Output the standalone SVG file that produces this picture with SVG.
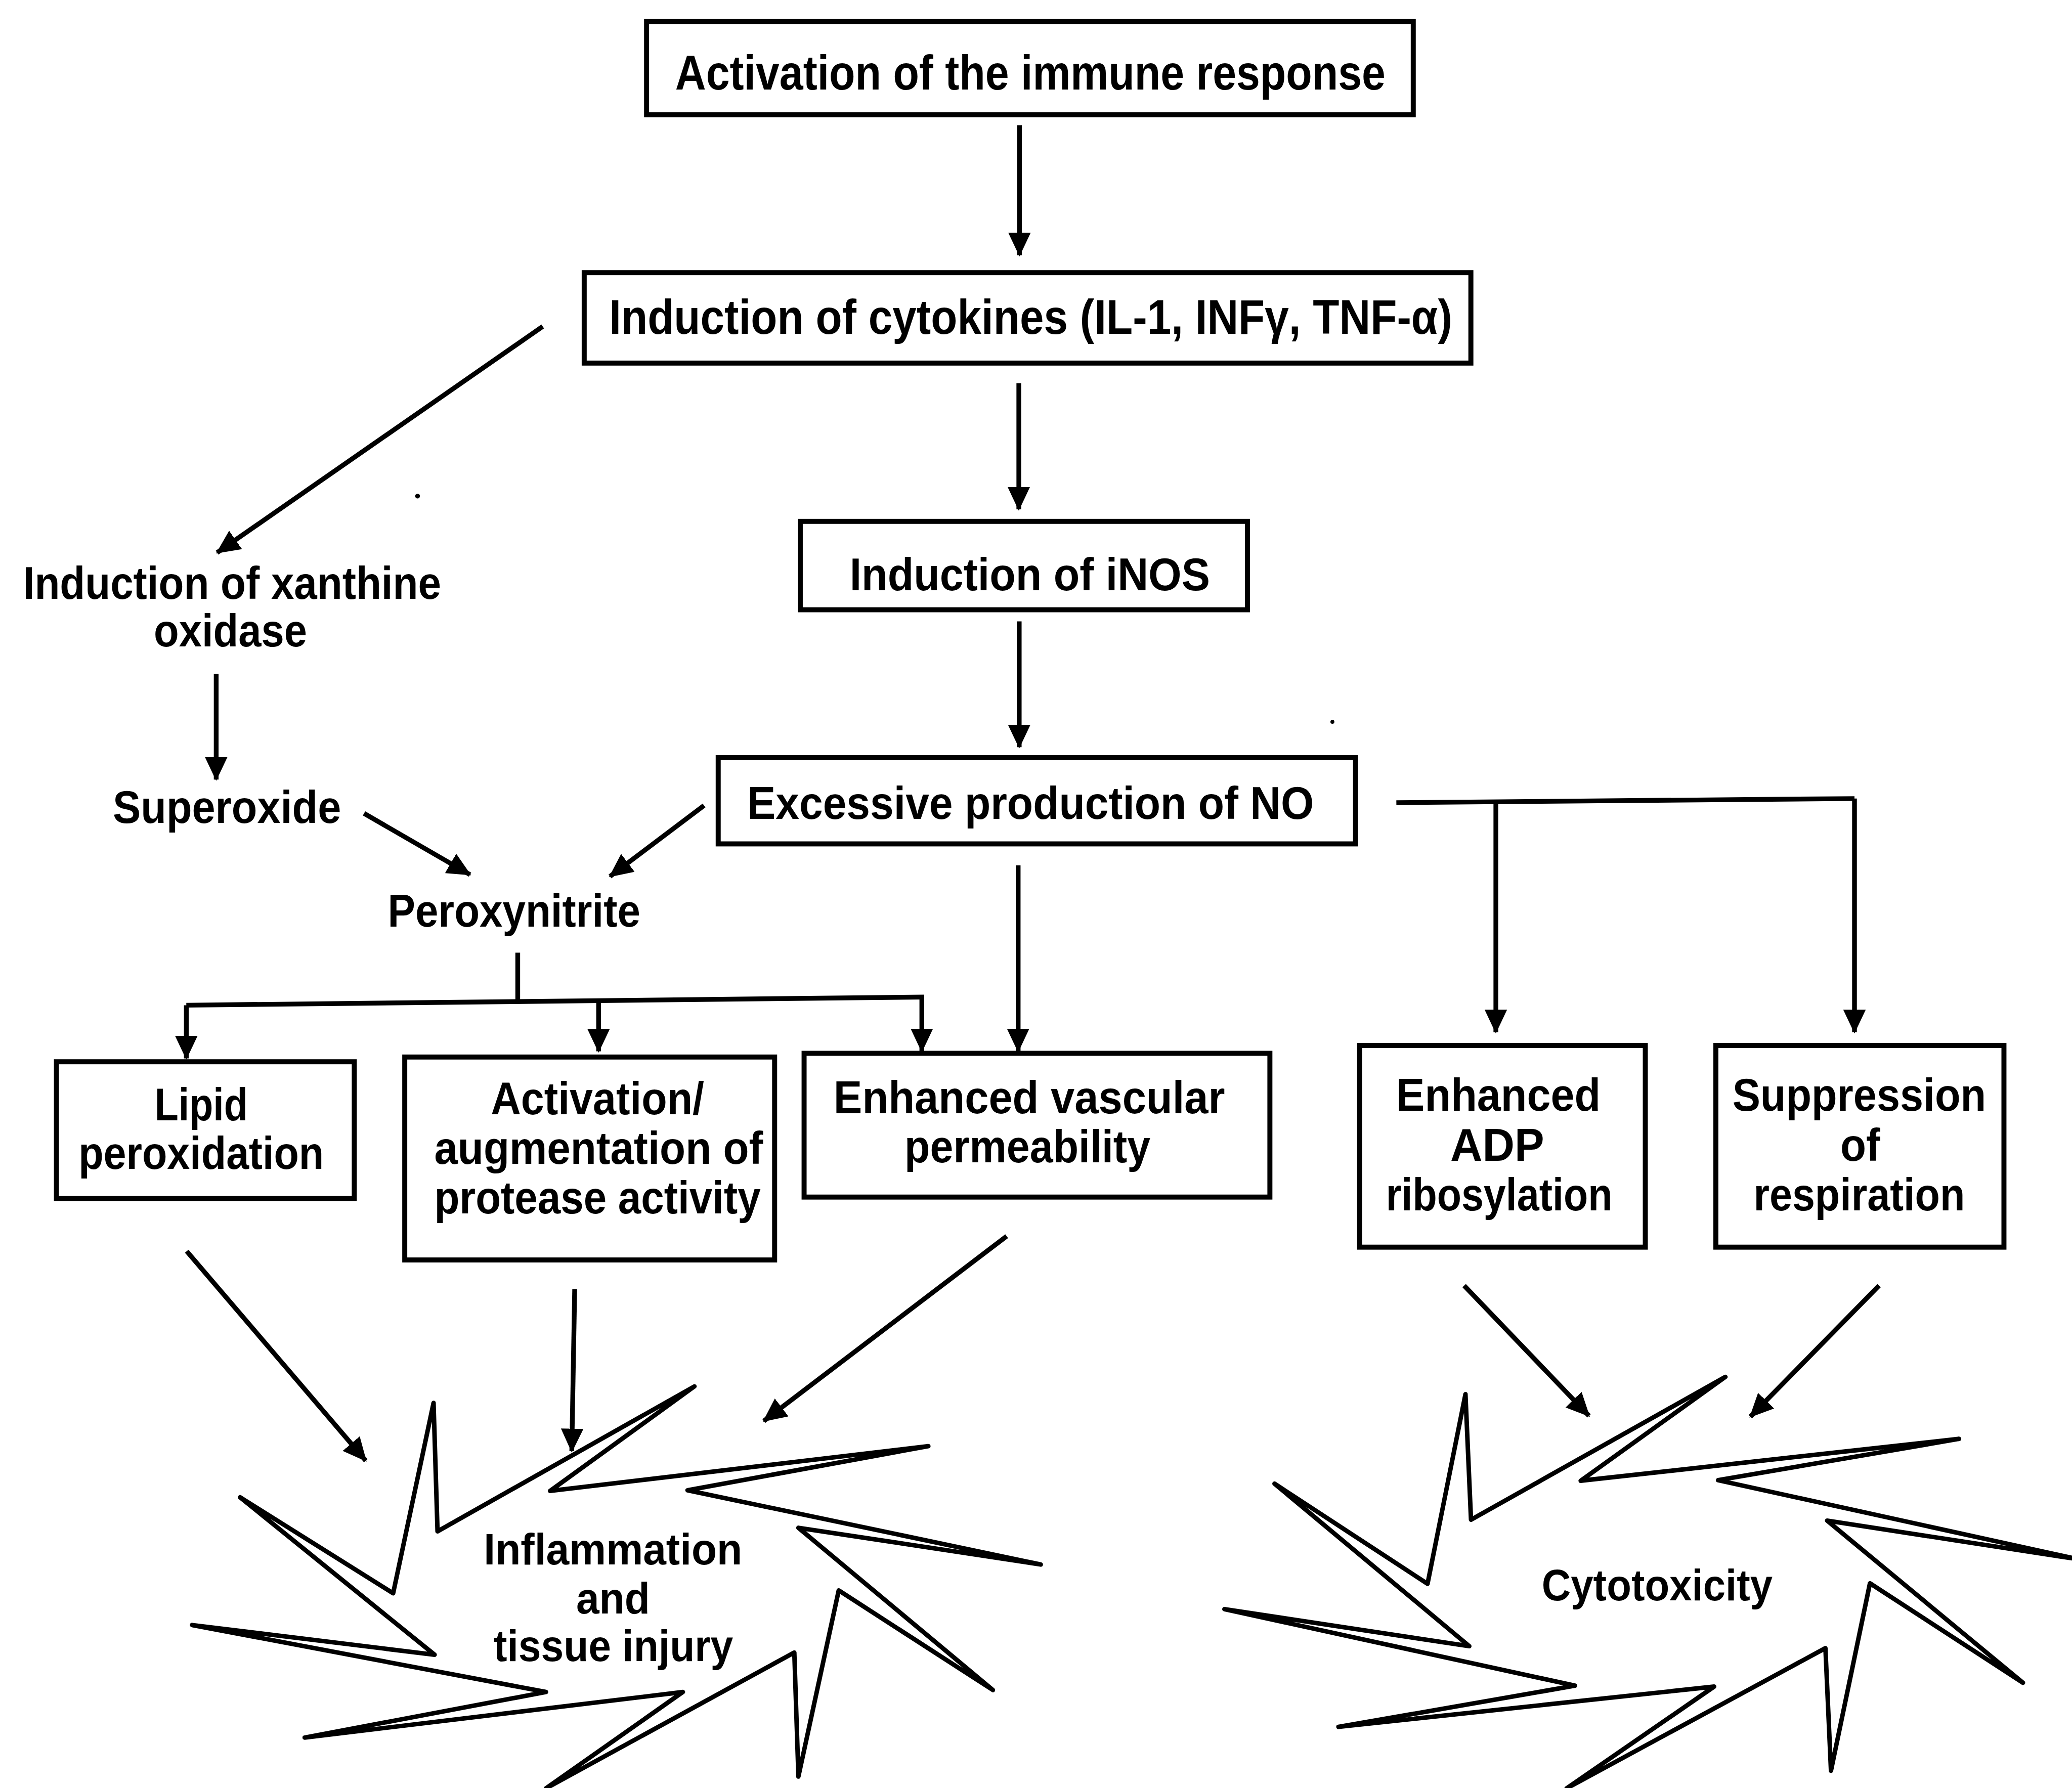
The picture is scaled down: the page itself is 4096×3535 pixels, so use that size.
<svg xmlns="http://www.w3.org/2000/svg" width="4096" height="3535" viewBox="0 0 4096 3535">
<style>
.box{fill:none;stroke:#000;stroke-width:3.8}
.t{font-family:"Liberation Sans",Arial,Helvetica,sans-serif;font-weight:bold;font-size:35px;fill:#000}
.tl{font-size:37px}
.ts{font-size:33px}
.c{fill:none;stroke:#000;stroke-width:3.6}
.star{fill:none;stroke:#000;stroke-width:3.4;stroke-linejoin:round}
</style>
<defs>
<marker id="ah" markerUnits="userSpaceOnUse" markerWidth="18" markerHeight="17" viewBox="0 0 18 17" refX="17" refY="8.5" orient="auto">
<path d="M0,0 L18,8.5 L0,17 z" fill="#000"/>
</marker>
</defs>
<rect width="4096" height="3535" fill="#fff"/>
<g transform="scale(2.61224)">
<g id="connectors">
<path class="c" marker-end="url(#ah)" d="M771.5,94.7 L771.5,193.1"/>
<path class="c" marker-end="url(#ah)" d="M771,290 L771,385.5"/>
<path class="c" marker-end="url(#ah)" d="M771.3,470.3 L771.3,565.5"/>
<path class="c" marker-end="url(#ah)" d="M410.7,247.1 L164.3,418.3"/>
<path class="c" marker-end="url(#ah)" d="M163.6,510 L163.6,590"/>
<path class="c" marker-end="url(#ah)" d="M275.5,615.6 L355.7,662"/>
<path class="c" marker-end="url(#ah)" d="M532.8,609.6 L461.6,663.3"/>
<path class="c" d="M391.8,721 L391.8,758.5"/>
<path class="c" d="M141,760.8 L699.4,754.6"/>
<path class="c" marker-end="url(#ah)" d="M141,760.8 L141,801"/>
<path class="c" marker-end="url(#ah)" d="M453,757.3 L453,795.7"/>
<path class="c" marker-end="url(#ah)" d="M697.6,754.6 L697.6,795.5"/>
<path class="c" marker-end="url(#ah)" d="M770.5,654.9 L770.5,795.5"/>
<path class="c" d="M1056.7,607.5 L1403.4,604.4"/>
<path class="c" marker-end="url(#ah)" d="M1132,606.8 L1132,781.2"/>
<path class="c" marker-end="url(#ah)" d="M1403.4,604.4 L1403.4,781.2"/>
<path class="c" marker-end="url(#ah)" d="M141.3,947 L276.8,1105.5"/>
<path class="c" marker-end="url(#ah)" d="M434.9,975.8 L432.7,1098.3"/>
<path class="c" marker-end="url(#ah)" d="M761.8,935.6 L578,1075.5"/>
<path class="c" marker-end="url(#ah)" d="M1108,973 L1202.5,1071.6"/>
<path class="c" marker-end="url(#ah)" d="M1422,973 L1324.6,1072.2"/>
</g>
<g id="n-activation">
<rect class="box" x="489.3" y="16.3" width="580.2" height="70.6"/>
<text class="t tl" x="511" y="67.8" textLength="537.5" lengthAdjust="spacingAndGlyphs">Activation of the immune response</text>
</g>
<g id="n-cytokines">
<rect class="box" x="442.1" y="206.4" width="671" height="68.4"/>
<text class="t tl" x="461" y="252.5" textLength="638" lengthAdjust="spacingAndGlyphs">Induction of cytokines (IL-1, INFγ, TNF-α)</text>
</g>
<g id="n-inos">
<rect class="box" x="605.6" y="394.6" width="338.4" height="66.9"/>
<text class="t" x="643" y="446.6" textLength="272.7" lengthAdjust="spacingAndGlyphs">Induction of iNOS</text>
</g>
<g id="n-no">
<rect class="box" x="543.5" y="573.4" width="482.3" height="65.3"/>
<text class="t" x="565.5" y="619.6" textLength="428.8" lengthAdjust="spacingAndGlyphs">Excessive production of NO</text>
</g>
<g id="n-xanthine">
<text class="t" x="17.5" y="453.3" textLength="316.3" lengthAdjust="spacingAndGlyphs">Induction of xanthine</text>
<text class="t" x="116.4" y="489.1" textLength="116" lengthAdjust="spacingAndGlyphs">oxidase</text>
</g>
<g id="n-superoxide">
<text class="t" x="85.4" y="622.7" textLength="172.7" lengthAdjust="spacingAndGlyphs">Superoxide</text>
</g>
<g id="n-peroxynitrite">
<text class="t" x="293.4" y="701.4" textLength="191.2" lengthAdjust="spacingAndGlyphs">Peroxynitrite</text>
</g>
<g id="n-lipid">
<rect class="box" x="42.7" y="803.6" width="225.4" height="103.5"/>
<text class="t" x="117" y="848.1" textLength="70.5" lengthAdjust="spacingAndGlyphs">Lipid</text>
<text class="t" x="59.4" y="884.8" textLength="185.7" lengthAdjust="spacingAndGlyphs">peroxidation</text>
</g>
<g id="n-protease">
<rect class="box" x="306.3" y="800" width="279.9" height="153.6"/>
<text class="t" x="371.4" y="843.5" textLength="161.5" lengthAdjust="spacingAndGlyphs">Activation/</text>
<text class="t" x="328.6" y="881" textLength="248.8" lengthAdjust="spacingAndGlyphs">augmentation of</text>
<text class="t" x="328.6" y="918.5" textLength="247" lengthAdjust="spacingAndGlyphs">protease activity</text>
</g>
<g id="n-vascular">
<rect class="box" x="608.5" y="797.2" width="352.5" height="108.8"/>
<text class="t" x="630.8" y="842.4" textLength="296.2" lengthAdjust="spacingAndGlyphs">Enhanced vascular</text>
<text class="t" x="684.5" y="879.6" textLength="186.1" lengthAdjust="spacingAndGlyphs">permeability</text>
</g>
<g id="n-adp">
<rect class="box" x="1028.9" y="791.3" width="216.2" height="152.6"/>
<text class="t" x="1056.6" y="840.5" textLength="154.7" lengthAdjust="spacingAndGlyphs">Enhanced</text>
<text class="t" x="1097.5" y="878.5" textLength="71.1" lengthAdjust="spacingAndGlyphs">ADP</text>
<text class="t" x="1048.8" y="916.2" textLength="171.4" lengthAdjust="spacingAndGlyphs">ribosylation</text>
</g>
<g id="n-respiration">
<rect class="box" x="1298.5" y="791.3" width="218" height="152.6"/>
<text class="t" x="1311" y="840.5" textLength="192" lengthAdjust="spacingAndGlyphs">Suppression</text>
<text class="t" x="1392.7" y="878.5" textLength="30.2" lengthAdjust="spacingAndGlyphs">of</text>
<text class="t" x="1327" y="916.2" textLength="160" lengthAdjust="spacingAndGlyphs">respiration</text>
</g>
<g id="n-inflammation">
<polygon class="star" points="328.1,1061.8 331.1,1159.0 525.5,1049.3 416.3,1128.4 702.5,1094.5 520.3,1127.9 787.6,1184.1 604.2,1156.3 751.4,1279.1 634.7,1203.7 604.2,1344.6 601.1,1250.7 413.2,1353.5 516.8,1280.6 230.6,1315.1 413.2,1280.6 145.4,1229.9 328.9,1252.4 181.7,1133.2 297.5,1205.9"/>
<text class="t ts" x="366.1" y="1184.1" textLength="195.6" lengthAdjust="spacingAndGlyphs">Inflammation</text>
<text class="t ts" x="436" y="1221.2" textLength="55.9" lengthAdjust="spacingAndGlyphs">and</text>
<text class="t ts" x="373.5" y="1257" textLength="181.3" lengthAdjust="spacingAndGlyphs">tissue injury</text>
</g>
<g id="n-cytotoxicity">
<polygon class="star" points="1109.0,1055.2 1113.2,1150.2 1305.7,1042.1 1196.2,1120.7 1482.5,1089.0 1300.2,1120.3 1572,1180 1382.7,1150.9 1530.9,1273.6 1415.1,1198.3 1385.6,1340.2 1381.4,1247.4 1185.6,1353.5 1297.2,1276.5 1012.9,1307.0 1191.9,1275.8 926.6,1217.9 1111.9,1245.9 964.5,1122.9 1080.3,1198.7"/>
<text class="t ts" x="1166.7" y="1211.4" textLength="174.7" lengthAdjust="spacingAndGlyphs">Cytotoxicity</text>
</g>
<circle cx="316" cy="375.5" r="1.8" fill="#000"/>
<circle cx="1008.3" cy="546.3" r="1.5" fill="#000"/>
</g>
</svg>
